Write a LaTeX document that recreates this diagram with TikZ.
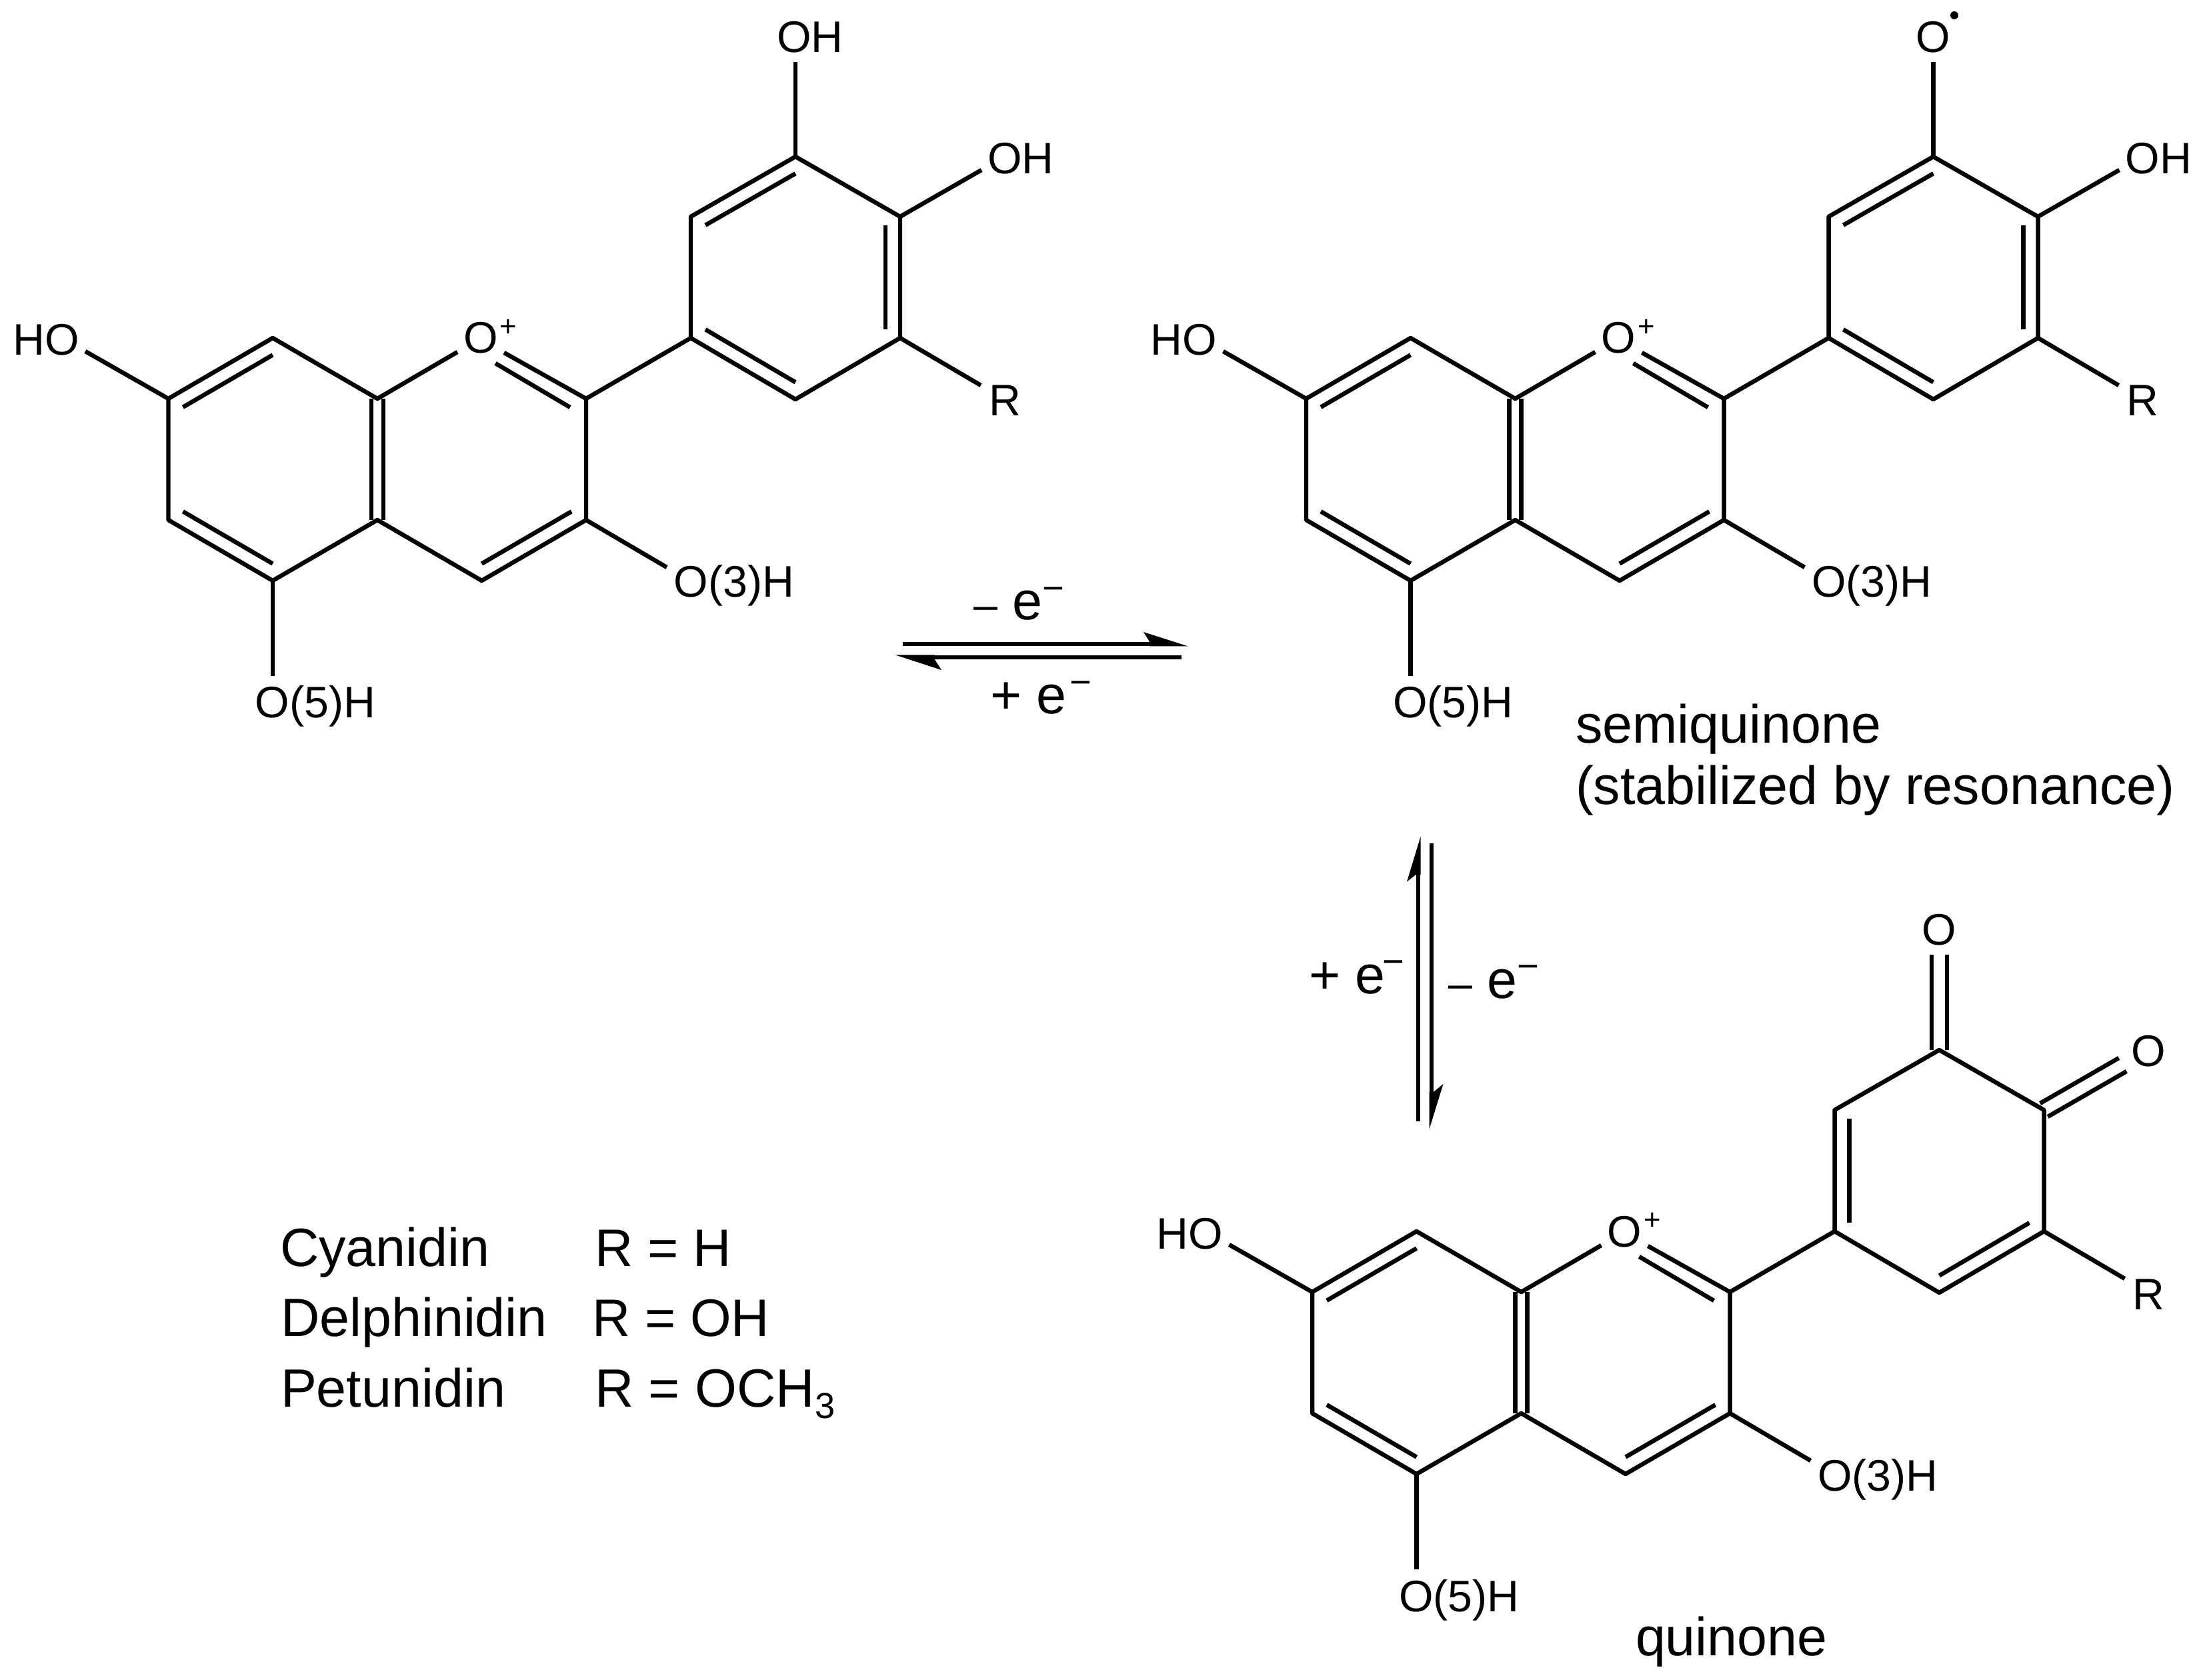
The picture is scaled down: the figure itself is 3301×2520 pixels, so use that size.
\documentclass[tikz,border=0pt]{standalone}
\usepackage{fontspec}
\setmainfont{Liberation Sans}
\usetikzlibrary{calc}
\newcommand{\atomfont}{\fontsize{15.9pt}{18pt}\selectfont}
\newcommand{\bigfont}{\fontsize{19.4pt}{22pt}\selectfont}
\newcommand{\rfont}{\fontsize{19pt}{22pt}\selectfont}
% e with a raised minus; #1 is the kern between them
\newcommand{\emin}[1]{e\kern#1\raisebox{6.8pt}{\fontsize{13.5pt}{14pt}\selectfont −}}
\newcommand{\shortdash}{{\fontsize{15.5pt}{16pt}\selectfont –}}
\newcommand{\oplusnode}{O\kern0.8pt\raisebox{6.2pt}{\fontsize{10.5pt}{11pt}\selectfont +}}
\newcommand{\lowthree}{\raisebox{-4.3pt}{\fontsize{13pt}{14pt}\selectfont 3}}
\tikzset{
  bondline/.style={draw=black,line width=1.55pt,line cap=butt},
  ringline/.style={draw=black,line width=1.55pt,line cap=round,line join=round},
  arrline/.style={draw=black,line width=1.64pt,line cap=butt},
  headfill/.style={fill=black,draw=none},
  atomlab/.style={inner sep=0pt,outer sep=0pt,anchor=base,font=\atomfont,text=black},
  atomleft/.style={inner sep=0pt,outer sep=0pt,anchor=base west,font=\atomfont,text=black},
  biglab/.style={inner sep=0pt,outer sep=0pt,anchor=base west,font=\bigfont,text=black},
  rlab/.style={inner sep=0pt,outer sep=0pt,anchor=base west,font=\rfont,text=black}
}
% inner line of a ring double bond
\newcommand{\innerbond}[3]{\draw[bondline] ($(#1)!.14!(#3)$) -- ($(#2)!.14!(#3)$);}
% pair of parallel lines, offset (#3,#4) either side of the bond #1-#2
\newcommand{\twinbond}[4]{%
  \draw[bondline] ($(#1)+(#3,#4)$) -- ($(#2)+(#3,#4)$);
  \draw[bondline] ($(#1)-(#3,#4)$) -- ($(#2)-(#3,#4)$);}
% the part shared by the three molecules
\newcommand{\benzopyrylium}[1]{%
  \coordinate (#1c7) at (252.5,598);
  \coordinate (#1c8) at (409,507);
  \coordinate (#1c8a) at (566,598);
  \coordinate (#1c4a) at (566,780);
  \coordinate (#1c5) at (409,871);
  \coordinate (#1c6) at (252.5,780);
  \coordinate (#1c2) at (879,598);
  \coordinate (#1c3) at (879,780);
  \coordinate (#1c4) at (722.5,871);
  \coordinate (#1c1p) at (1036,507);
  \coordinate (#1c2p) at (1036,325);
  \coordinate (#1c3p) at (1193,235);
  \coordinate (#1c4p) at (1350,325);
  \coordinate (#1c5p) at (1350,507);
  \coordinate (#1c6p) at (1193,599);
  \coordinate (#1ra) at (409,689);
  \coordinate (#1rc) at (722.5,689);
  \coordinate (#1rb) at (1193,416);
  \coordinate (#1endho) at (128,527);
  \coordinate (#1endoa) at (686,528);
  \coordinate (#1endob) at (756,529);
  \coordinate (#1inob) at (855,611);
  \coordinate (#1inoa) at (743,545);
  \coordinate (#1endr) at (1471,578);
  \coordinate (#1endo3) at (1000,851);
  \coordinate (#1endo5) at (409,1014);
  \draw[ringline] (#1c8a) -- (#1c8) -- (#1c7) -- (#1c6) -- (#1c5) -- (#1c4a) -- (#1c4) -- (#1c3) -- (#1c2) -- (#1c1p);
  \draw[ringline] (#1c1p) -- (#1c2p) -- (#1c3p) -- (#1c4p) -- (#1c5p) -- (#1c6p) -- cycle;
  \twinbond{#1c8a}{#1c4a}{9}{0}
  \innerbond{#1c7}{#1c8}{#1ra}
  \innerbond{#1c6}{#1c5}{#1ra}
  \innerbond{#1c3}{#1c4}{#1rc}
  \draw[bondline] (#1c8a) -- (#1endoa);
  \draw[bondline] (#1c2) -- (#1endob);
  \draw[bondline] (#1inob) -- (#1inoa);
  \draw[bondline] (#1c7) -- (#1endho);
  \draw[bondline] (#1c5p) -- (#1endr);
  \draw[bondline] (#1c3) -- (#1endo3);
  \draw[bondline] (#1c5) -- (#1endo5);
  \node[atomlab] (#1ho) at (69,533) {HO};
  \node[atomleft] (#1ox) at (695,530) {\oplusnode};
  \node[atomlab] (#1r) at (1507,624) {R};
  \node[atomlab] (#1o3) at (1101,896) {O(3)H};
  \node[atomlab] (#1o5) at (473,1077) {O(5)H};
}
\newcommand{\catecholring}[1]{%
  \innerbond{#1c2p}{#1c3p}{#1rb}
  \innerbond{#1c4p}{#1c5p}{#1rb}
  \innerbond{#1c1p}{#1c6p}{#1rb}
  \coordinate (#1endtop) at (1193,93);
  \coordinate (#1endside) at (1472,255);
  \draw[bondline] (#1c3p) -- (#1endtop);
  \draw[bondline] (#1c4p) -- (#1endside);
  \node[atomlab] (#1oh) at (1531,261) {OH};
}
\begin{document}
\begin{tikzpicture}[x=0.24pt,y=-0.24pt]
  \fill[white] (0,0) rectangle (3301,2520);
  \useasboundingbox (0,0) rectangle (3301,2520);

  % molecule 1: the anthocyanidin
  \begin{scope}
    \benzopyrylium{a}
    \catecholring{a}
    \node[atomlab] (atopoh) at (1215,79) {OH};
  \end{scope}

  % molecule 2: the semiquinone
  \begin{scope}[shift={(1706.5,0)}]
    \benzopyrylium{b}
    \catecholring{b}
    \node[atomlab] (btopo) at (1193,79) {O};
    \fill[black] (1224.5,23) circle (6);
  \end{scope}

  % molecule 3: the quinone
  \begin{scope}[shift={(1715.5,1340)}]
    \benzopyrylium{c}
    \innerbond{cc1p}{cc2p}{crb}
    \innerbond{cc5p}{cc6p}{crb}
    \coordinate (cendtop) at (1193,92);
    \coordinate (cendside) at (1468,257);
    \twinbond{cc3p}{cendtop}{11.5}{0}
    \twinbond{cc4p}{cendside}{5.8}{10}
    \node[atomlab] (ctopo) at (1193,78) {O};
    \node[atomlab] (csideo) at (1507,259) {O};
  \end{scope}

  % reaction arrows
  \coordinate (hua) at (1354,966);
  \coordinate (hub) at (1726,966);
  \draw[arrline] (hua) -- (hub);
  \fill[headfill] (1782,969.5) -- (1715,948) -- (1724,962.5) -- (1724,969.5) -- cycle;
  \coordinate (hla) at (1772,986);
  \coordinate (hlb) at (1400,986);
  \draw[arrline] (hla) -- (hlb);
  \fill[headfill] (1343,982.5) -- (1412,1005) -- (1402,989.5) -- (1402,982.5) -- cycle;
  \coordinate (vla) at (2127,1682);
  \coordinate (vlb) at (2127,1310);
  \draw[arrline] (vla) -- (vlb);
  \fill[headfill] (2130.5,1255) -- (2110,1322.5) -- (2123.5,1312) -- (2130.5,1312) -- cycle;
  \coordinate (vra) at (2147,1265);
  \coordinate (vrb) at (2147,1640);
  \draw[arrline] (vra) -- (vrb);
  \fill[headfill] (2143.5,1694) -- (2164.5,1626) -- (2150.5,1637.5) -- (2143.5,1637.5) -- cycle;

  % arrow labels
  \node[biglab] (lminush) at (1460,930) {\shortdash\ \emin{0pt}};
  \node[biglab] (lplush) at (1485,1071) {+ \emin{1.2pt}};
  \node[biglab] (lplusv) at (1963,1490) {+ \emin{-0.9pt}};
  \node[biglab] (lminusv) at (2172,1497) {\shortdash\ \emin{0pt}};

  % captions
  \node[biglab] (semi) at (2363,1115) {semiquinone};
  \node[biglab] (stab) at (2363,1207) {(stabilized by resonance)};
  \node[biglab] (quin) at (2453,2483) {quinone};

  \node[biglab] (cy) at (420,1899) {Cyanidin};
  \node[biglab] (del) at (421,2004) {Delphinidin};
  \node[biglab] (pet) at (421,2110) {Petunidin};
  \node[rlab] (cyr) at (892,1899) {R = H};
  \node[rlab] (delr) at (888,2004) {R = OH};
  \node[biglab] (petr) at (892,2110) {R = OCH\lowthree};
\end{tikzpicture}
\end{document}
